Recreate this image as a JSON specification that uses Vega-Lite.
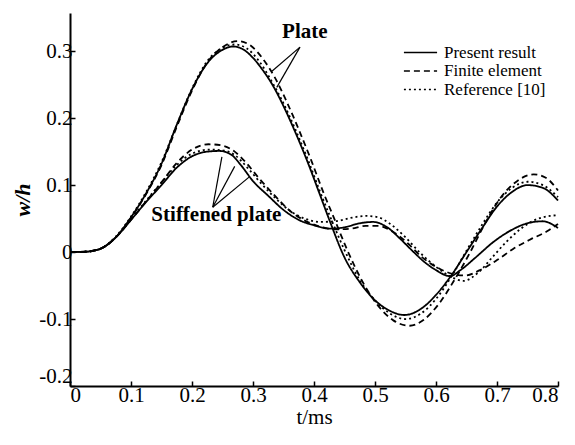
{
  "$schema": "https://vega.github.io/schema/vega-lite/v6.json",
  "width": 488,
  "height": 373,
  "autosize": "none",
  "padding": {"left": 70, "top": 13, "right": 17, "bottom": 59},
  "background": "white",
  "config": {
    "view": {"stroke": null},
    "font": "Liberation Serif",
    "axis": {
      "domainColor": "black", "domainWidth": 2, "tickColor": "black", "tickWidth": 1.5,
      "labelColor": "black", "labelFont": "Liberation Serif", "labelFontSize": 21,
      "titleColor": "black", "titleFont": "Liberation Serif", "titleFontSize": 21, "grid": false
    }
  },
  "datasets": {
    "curves": [
      {"t":0,"w":0,"s":"Plate","m":"Present result"},
      {"t":0.025,"w":0.0005,"s":"Plate","m":"Present result"},
      {"t":0.05,"w":0.005,"s":"Plate","m":"Present result"},
      {"t":0.075,"w":0.022,"s":"Plate","m":"Present result"},
      {"t":0.1,"w":0.052,"s":"Plate","m":"Present result"},
      {"t":0.125,"w":0.088,"s":"Plate","m":"Present result"},
      {"t":0.15,"w":0.132,"s":"Plate","m":"Present result"},
      {"t":0.175,"w":0.19,"s":"Plate","m":"Present result"},
      {"t":0.2,"w":0.243,"s":"Plate","m":"Present result"},
      {"t":0.225,"w":0.282,"s":"Plate","m":"Present result"},
      {"t":0.25,"w":0.302,"s":"Plate","m":"Present result"},
      {"t":0.267,"w":0.307,"s":"Plate","m":"Present result"},
      {"t":0.285,"w":0.302,"s":"Plate","m":"Present result"},
      {"t":0.3,"w":0.29,"s":"Plate","m":"Present result"},
      {"t":0.315,"w":0.273,"s":"Plate","m":"Present result"},
      {"t":0.333,"w":0.248,"s":"Plate","m":"Present result"},
      {"t":0.35,"w":0.218,"s":"Plate","m":"Present result"},
      {"t":0.366,"w":0.186,"s":"Plate","m":"Present result"},
      {"t":0.388,"w":0.138,"s":"Plate","m":"Present result"},
      {"t":0.41,"w":0.085,"s":"Plate","m":"Present result"},
      {"t":0.426,"w":0.046,"s":"Plate","m":"Present result"},
      {"t":0.45,"w":-0.008,"s":"Plate","m":"Present result"},
      {"t":0.475,"w":-0.045,"s":"Plate","m":"Present result"},
      {"t":0.5,"w":-0.072,"s":"Plate","m":"Present result"},
      {"t":0.525,"w":-0.088,"s":"Plate","m":"Present result"},
      {"t":0.548,"w":-0.094,"s":"Plate","m":"Present result"},
      {"t":0.575,"w":-0.085,"s":"Plate","m":"Present result"},
      {"t":0.6,"w":-0.064,"s":"Plate","m":"Present result"},
      {"t":0.625,"w":-0.035,"s":"Plate","m":"Present result"},
      {"t":0.65,"w":0.0,"s":"Plate","m":"Present result"},
      {"t":0.675,"w":0.035,"s":"Plate","m":"Present result"},
      {"t":0.7,"w":0.068,"s":"Plate","m":"Present result"},
      {"t":0.725,"w":0.09,"s":"Plate","m":"Present result"},
      {"t":0.75,"w":0.1,"s":"Plate","m":"Present result"},
      {"t":0.775,"w":0.096,"s":"Plate","m":"Present result"},
      {"t":0.8,"w":0.077,"s":"Plate","m":"Present result"},

      {"t":0,"w":0,"s":"Plate","m":"Finite element"},
      {"t":0.025,"w":0.0005,"s":"Plate","m":"Finite element"},
      {"t":0.05,"w":0.005,"s":"Plate","m":"Finite element"},
      {"t":0.075,"w":0.022,"s":"Plate","m":"Finite element"},
      {"t":0.1,"w":0.051,"s":"Plate","m":"Finite element"},
      {"t":0.125,"w":0.087,"s":"Plate","m":"Finite element"},
      {"t":0.15,"w":0.13,"s":"Plate","m":"Finite element"},
      {"t":0.175,"w":0.187,"s":"Plate","m":"Finite element"},
      {"t":0.2,"w":0.241,"s":"Plate","m":"Finite element"},
      {"t":0.225,"w":0.283,"s":"Plate","m":"Finite element"},
      {"t":0.25,"w":0.306,"s":"Plate","m":"Finite element"},
      {"t":0.275,"w":0.315,"s":"Plate","m":"Finite element"},
      {"t":0.295,"w":0.309,"s":"Plate","m":"Finite element"},
      {"t":0.315,"w":0.29,"s":"Plate","m":"Finite element"},
      {"t":0.335,"w":0.262,"s":"Plate","m":"Finite element"},
      {"t":0.355,"w":0.225,"s":"Plate","m":"Finite element"},
      {"t":0.375,"w":0.183,"s":"Plate","m":"Finite element"},
      {"t":0.395,"w":0.138,"s":"Plate","m":"Finite element"},
      {"t":0.415,"w":0.09,"s":"Plate","m":"Finite element"},
      {"t":0.435,"w":0.046,"s":"Plate","m":"Finite element"},
      {"t":0.455,"w":0.002,"s":"Plate","m":"Finite element"},
      {"t":0.48,"w":-0.045,"s":"Plate","m":"Finite element"},
      {"t":0.505,"w":-0.08,"s":"Plate","m":"Finite element"},
      {"t":0.53,"w":-0.102,"s":"Plate","m":"Finite element"},
      {"t":0.557,"w":-0.11,"s":"Plate","m":"Finite element"},
      {"t":0.58,"w":-0.101,"s":"Plate","m":"Finite element"},
      {"t":0.605,"w":-0.077,"s":"Plate","m":"Finite element"},
      {"t":0.63,"w":-0.042,"s":"Plate","m":"Finite element"},
      {"t":0.655,"w":-0.002,"s":"Plate","m":"Finite element"},
      {"t":0.68,"w":0.042,"s":"Plate","m":"Finite element"},
      {"t":0.705,"w":0.08,"s":"Plate","m":"Finite element"},
      {"t":0.73,"w":0.104,"s":"Plate","m":"Finite element"},
      {"t":0.76,"w":0.116,"s":"Plate","m":"Finite element"},
      {"t":0.78,"w":0.111,"s":"Plate","m":"Finite element"},
      {"t":0.8,"w":0.092,"s":"Plate","m":"Finite element"},

      {"t":0,"w":0,"s":"Plate","m":"Reference [10]"},
      {"t":0.025,"w":0.0005,"s":"Plate","m":"Reference [10]"},
      {"t":0.05,"w":0.005,"s":"Plate","m":"Reference [10]"},
      {"t":0.075,"w":0.023,"s":"Plate","m":"Reference [10]"},
      {"t":0.1,"w":0.053,"s":"Plate","m":"Reference [10]"},
      {"t":0.125,"w":0.09,"s":"Plate","m":"Reference [10]"},
      {"t":0.15,"w":0.134,"s":"Plate","m":"Reference [10]"},
      {"t":0.175,"w":0.19,"s":"Plate","m":"Reference [10]"},
      {"t":0.2,"w":0.244,"s":"Plate","m":"Reference [10]"},
      {"t":0.225,"w":0.285,"s":"Plate","m":"Reference [10]"},
      {"t":0.25,"w":0.305,"s":"Plate","m":"Reference [10]"},
      {"t":0.27,"w":0.31,"s":"Plate","m":"Reference [10]"},
      {"t":0.29,"w":0.304,"s":"Plate","m":"Reference [10]"},
      {"t":0.31,"w":0.285,"s":"Plate","m":"Reference [10]"},
      {"t":0.33,"w":0.256,"s":"Plate","m":"Reference [10]"},
      {"t":0.35,"w":0.222,"s":"Plate","m":"Reference [10]"},
      {"t":0.37,"w":0.182,"s":"Plate","m":"Reference [10]"},
      {"t":0.39,"w":0.138,"s":"Plate","m":"Reference [10]"},
      {"t":0.41,"w":0.09,"s":"Plate","m":"Reference [10]"},
      {"t":0.43,"w":0.045,"s":"Plate","m":"Reference [10]"},
      {"t":0.45,"w":0.003,"s":"Plate","m":"Reference [10]"},
      {"t":0.475,"w":-0.042,"s":"Plate","m":"Reference [10]"},
      {"t":0.5,"w":-0.072,"s":"Plate","m":"Reference [10]"},
      {"t":0.525,"w":-0.092,"s":"Plate","m":"Reference [10]"},
      {"t":0.55,"w":-0.1,"s":"Plate","m":"Reference [10]"},
      {"t":0.575,"w":-0.092,"s":"Plate","m":"Reference [10]"},
      {"t":0.6,"w":-0.07,"s":"Plate","m":"Reference [10]"},
      {"t":0.625,"w":-0.037,"s":"Plate","m":"Reference [10]"},
      {"t":0.65,"w":0.002,"s":"Plate","m":"Reference [10]"},
      {"t":0.675,"w":0.04,"s":"Plate","m":"Reference [10]"},
      {"t":0.7,"w":0.074,"s":"Plate","m":"Reference [10]"},
      {"t":0.725,"w":0.096,"s":"Plate","m":"Reference [10]"},
      {"t":0.75,"w":0.105,"s":"Plate","m":"Reference [10]"},
      {"t":0.775,"w":0.1,"s":"Plate","m":"Reference [10]"},
      {"t":0.8,"w":0.082,"s":"Plate","m":"Reference [10]"},

      {"t":0,"w":0,"s":"Stiffened","m":"Present result"},
      {"t":0.025,"w":0.0005,"s":"Stiffened","m":"Present result"},
      {"t":0.05,"w":0.005,"s":"Stiffened","m":"Present result"},
      {"t":0.075,"w":0.022,"s":"Stiffened","m":"Present result"},
      {"t":0.1,"w":0.048,"s":"Stiffened","m":"Present result"},
      {"t":0.125,"w":0.075,"s":"Stiffened","m":"Present result"},
      {"t":0.15,"w":0.1,"s":"Stiffened","m":"Present result"},
      {"t":0.175,"w":0.126,"s":"Stiffened","m":"Present result"},
      {"t":0.2,"w":0.143,"s":"Stiffened","m":"Present result"},
      {"t":0.225,"w":0.15,"s":"Stiffened","m":"Present result"},
      {"t":0.245,"w":0.151,"s":"Stiffened","m":"Present result"},
      {"t":0.265,"w":0.145,"s":"Stiffened","m":"Present result"},
      {"t":0.28,"w":0.13,"s":"Stiffened","m":"Present result"},
      {"t":0.3,"w":0.106,"s":"Stiffened","m":"Present result"},
      {"t":0.325,"w":0.084,"s":"Stiffened","m":"Present result"},
      {"t":0.35,"w":0.063,"s":"Stiffened","m":"Present result"},
      {"t":0.375,"w":0.048,"s":"Stiffened","m":"Present result"},
      {"t":0.4,"w":0.04,"s":"Stiffened","m":"Present result"},
      {"t":0.425,"w":0.035,"s":"Stiffened","m":"Present result"},
      {"t":0.45,"w":0.037,"s":"Stiffened","m":"Present result"},
      {"t":0.475,"w":0.043,"s":"Stiffened","m":"Present result"},
      {"t":0.497,"w":0.045,"s":"Stiffened","m":"Present result"},
      {"t":0.52,"w":0.037,"s":"Stiffened","m":"Present result"},
      {"t":0.54,"w":0.021,"s":"Stiffened","m":"Present result"},
      {"t":0.56,"w":0.003,"s":"Stiffened","m":"Present result"},
      {"t":0.58,"w":-0.014,"s":"Stiffened","m":"Present result"},
      {"t":0.6,"w":-0.027,"s":"Stiffened","m":"Present result"},
      {"t":0.623,"w":-0.036,"s":"Stiffened","m":"Present result"},
      {"t":0.64,"w":-0.027,"s":"Stiffened","m":"Present result"},
      {"t":0.665,"w":-0.008,"s":"Stiffened","m":"Present result"},
      {"t":0.694,"w":0.015,"s":"Stiffened","m":"Present result"},
      {"t":0.72,"w":0.031,"s":"Stiffened","m":"Present result"},
      {"t":0.75,"w":0.043,"s":"Stiffened","m":"Present result"},
      {"t":0.775,"w":0.046,"s":"Stiffened","m":"Present result"},
      {"t":0.8,"w":0.036,"s":"Stiffened","m":"Present result"},

      {"t":0,"w":0,"s":"Stiffened","m":"Finite element"},
      {"t":0.025,"w":0.0005,"s":"Stiffened","m":"Finite element"},
      {"t":0.05,"w":0.005,"s":"Stiffened","m":"Finite element"},
      {"t":0.075,"w":0.022,"s":"Stiffened","m":"Finite element"},
      {"t":0.1,"w":0.048,"s":"Stiffened","m":"Finite element"},
      {"t":0.125,"w":0.076,"s":"Stiffened","m":"Finite element"},
      {"t":0.15,"w":0.104,"s":"Stiffened","m":"Finite element"},
      {"t":0.175,"w":0.133,"s":"Stiffened","m":"Finite element"},
      {"t":0.2,"w":0.153,"s":"Stiffened","m":"Finite element"},
      {"t":0.227,"w":0.161,"s":"Stiffened","m":"Finite element"},
      {"t":0.25,"w":0.159,"s":"Stiffened","m":"Finite element"},
      {"t":0.27,"w":0.15,"s":"Stiffened","m":"Finite element"},
      {"t":0.29,"w":0.132,"s":"Stiffened","m":"Finite element"},
      {"t":0.31,"w":0.11,"s":"Stiffened","m":"Finite element"},
      {"t":0.335,"w":0.085,"s":"Stiffened","m":"Finite element"},
      {"t":0.36,"w":0.062,"s":"Stiffened","m":"Finite element"},
      {"t":0.385,"w":0.047,"s":"Stiffened","m":"Finite element"},
      {"t":0.41,"w":0.038,"s":"Stiffened","m":"Finite element"},
      {"t":0.435,"w":0.034,"s":"Stiffened","m":"Finite element"},
      {"t":0.46,"w":0.035,"s":"Stiffened","m":"Finite element"},
      {"t":0.485,"w":0.039,"s":"Stiffened","m":"Finite element"},
      {"t":0.505,"w":0.039,"s":"Stiffened","m":"Finite element"},
      {"t":0.53,"w":0.03,"s":"Stiffened","m":"Finite element"},
      {"t":0.555,"w":0.012,"s":"Stiffened","m":"Finite element"},
      {"t":0.575,"w":-0.006,"s":"Stiffened","m":"Finite element"},
      {"t":0.6,"w":-0.022,"s":"Stiffened","m":"Finite element"},
      {"t":0.625,"w":-0.032,"s":"Stiffened","m":"Finite element"},
      {"t":0.648,"w":-0.035,"s":"Stiffened","m":"Finite element"},
      {"t":0.672,"w":-0.027,"s":"Stiffened","m":"Finite element"},
      {"t":0.7,"w":-0.012,"s":"Stiffened","m":"Finite element"},
      {"t":0.727,"w":0.005,"s":"Stiffened","m":"Finite element"},
      {"t":0.755,"w":0.019,"s":"Stiffened","m":"Finite element"},
      {"t":0.782,"w":0.031,"s":"Stiffened","m":"Finite element"},
      {"t":0.8,"w":0.042,"s":"Stiffened","m":"Finite element"},

      {"t":0,"w":0,"s":"Stiffened","m":"Reference [10]"},
      {"t":0.025,"w":0.0005,"s":"Stiffened","m":"Reference [10]"},
      {"t":0.05,"w":0.005,"s":"Stiffened","m":"Reference [10]"},
      {"t":0.075,"w":0.022,"s":"Stiffened","m":"Reference [10]"},
      {"t":0.1,"w":0.049,"s":"Stiffened","m":"Reference [10]"},
      {"t":0.125,"w":0.077,"s":"Stiffened","m":"Reference [10]"},
      {"t":0.15,"w":0.104,"s":"Stiffened","m":"Reference [10]"},
      {"t":0.175,"w":0.13,"s":"Stiffened","m":"Reference [10]"},
      {"t":0.2,"w":0.147,"s":"Stiffened","m":"Reference [10]"},
      {"t":0.228,"w":0.153,"s":"Stiffened","m":"Reference [10]"},
      {"t":0.25,"w":0.152,"s":"Stiffened","m":"Reference [10]"},
      {"t":0.27,"w":0.145,"s":"Stiffened","m":"Reference [10]"},
      {"t":0.29,"w":0.127,"s":"Stiffened","m":"Reference [10]"},
      {"t":0.31,"w":0.106,"s":"Stiffened","m":"Reference [10]"},
      {"t":0.335,"w":0.082,"s":"Stiffened","m":"Reference [10]"},
      {"t":0.36,"w":0.062,"s":"Stiffened","m":"Reference [10]"},
      {"t":0.385,"w":0.05,"s":"Stiffened","m":"Reference [10]"},
      {"t":0.41,"w":0.045,"s":"Stiffened","m":"Reference [10]"},
      {"t":0.435,"w":0.046,"s":"Stiffened","m":"Reference [10]"},
      {"t":0.46,"w":0.051,"s":"Stiffened","m":"Reference [10]"},
      {"t":0.485,"w":0.054,"s":"Stiffened","m":"Reference [10]"},
      {"t":0.505,"w":0.052,"s":"Stiffened","m":"Reference [10]"},
      {"t":0.525,"w":0.042,"s":"Stiffened","m":"Reference [10]"},
      {"t":0.55,"w":0.022,"s":"Stiffened","m":"Reference [10]"},
      {"t":0.575,"w":-0.002,"s":"Stiffened","m":"Reference [10]"},
      {"t":0.6,"w":-0.022,"s":"Stiffened","m":"Reference [10]"},
      {"t":0.625,"w":-0.037,"s":"Stiffened","m":"Reference [10]"},
      {"t":0.645,"w":-0.043,"s":"Stiffened","m":"Reference [10]"},
      {"t":0.67,"w":-0.03,"s":"Stiffened","m":"Reference [10]"},
      {"t":0.694,"w":-0.006,"s":"Stiffened","m":"Reference [10]"},
      {"t":0.715,"w":0.015,"s":"Stiffened","m":"Reference [10]"},
      {"t":0.738,"w":0.034,"s":"Stiffened","m":"Reference [10]"},
      {"t":0.76,"w":0.047,"s":"Stiffened","m":"Reference [10]"},
      {"t":0.787,"w":0.054,"s":"Stiffened","m":"Reference [10]"},
      {"t":0.8,"w":0.055,"s":"Stiffened","m":"Reference [10]"}
    ],
    "labels": [
      {"t":0.385,"w":0.328,"label":"Plate"},
      {"t":0.24,"w":0.055,"label":"Stiffened plate"}
    ],
    "pointers": [
      {"t":0.377,"w":0.306,"t2":0.331,"w2":0.27},
      {"t":0.377,"w":0.306,"t2":0.339,"w2":0.246},
      {"t":0.234,"w":0.067,"t2":0.249,"w2":0.142},
      {"t":0.234,"w":0.067,"t2":0.27,"w2":0.128},
      {"t":0.234,"w":0.067,"t2":0.295,"w2":0.113}
    ]
  },
  "layer": [
    {
      "data": {"name": "curves"},
      "mark": {"type": "line", "interpolate": "monotone", "color": "black", "strokeWidth": 1.8},
      "encoding": {
        "x": {"field": "t", "type": "quantitative", "scale": {"domain": [0, 0.8], "nice": false},
          "axis": {"values": [0,0.1,0.2,0.3,0.4,0.5,0.6,0.7,0.8], "tickSize": -5, "labelPadding": 3,
            "labelExpr": "datum.value == 0 ? '0' : format(datum.value, '.1f')",
            "title": "t/ms", "titleFontWeight": "normal", "titlePadding": 1}},
        "y": {"field": "w", "type": "quantitative", "scale": {"domain": [-0.2, 0.357], "nice": false, "zero": false},
          "axis": {"values": [-0.2,-0.1,0,0.1,0.2,0.3], "tickSize": -5, "labelPadding": 3,
            "labelFlush": true, "labelFlushOffset": 0,
            "labelExpr": "datum.value == 0 ? '0' : (datum.value < 0 ? '-' + format(-datum.value, '.1f') : format(datum.value, '.1f'))",
            "title": "w/h", "titleFontStyle": "italic", "titleFontWeight": "bold", "titleFontSize": 22, "titlePadding": 4}},
        "strokeDash": {"field": "m", "type": "nominal",
          "scale": {"domain": ["Present result", "Finite element", "Reference [10]"], "range": [[1, 0], [6, 4], [2, 3]]},
          "legend": {"title": null, "orient": "none", "legendX": 333, "legendY": 32,
            "symbolType": "stroke", "symbolSize": 1100, "symbolStrokeWidth": 1.5, "symbolStrokeColor": "black",
            "labelFont": "Liberation Serif", "labelFontSize": 17, "labelColor": "black", "labelOffset": 6,
            "clipHeight": 15, "rowPadding": 0.5}},
        "detail": {"field": "s", "type": "nominal"}
      }
    },
    {
      "data": {"name": "pointers"},
      "mark": {"type": "rule", "color": "black", "strokeWidth": 1.2},
      "encoding": {
        "x": {"field": "t", "type": "quantitative"},
        "y": {"field": "w", "type": "quantitative"},
        "x2": {"field": "t2"},
        "y2": {"field": "w2"}
      }
    },
    {
      "data": {"name": "labels"},
      "mark": {"type": "text", "font": "Liberation Serif", "fontSize": 21, "fontWeight": "bold", "color": "black", "baseline": "middle", "align": "center"},
      "encoding": {
        "x": {"field": "t", "type": "quantitative"},
        "y": {"field": "w", "type": "quantitative"},
        "text": {"field": "label"}
      }
    }
  ]
}
